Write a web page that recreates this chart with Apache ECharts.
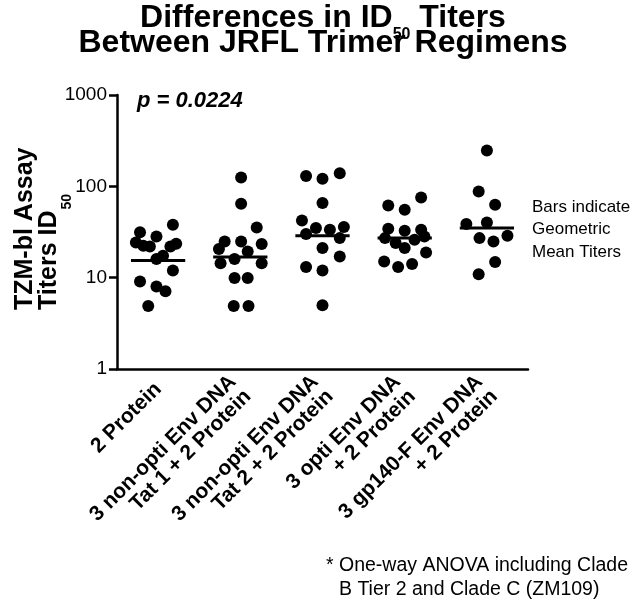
<!DOCTYPE html>
<html>
<head>
<meta charset="utf-8">
<script src="https://cdn.jsdelivr.net/npm/echarts@6/dist/echarts.min.js"></script>
<style>
  html, body { margin: 0; padding: 0; background: #fff; }
  #main { width: 637px; height: 605px; }
</style>
</head>
<body>
<div id="main"></div>
<script>
// regimens (x categories)
var categories = [
  '2 Protein',
  '3 non-opti Env DNA\nTat 1 + 2 Protein',
  '3 non-opti Env DNA\nTat 2 + 2 Protein',
  '3 opti Env DNA\n+ 2 Protein',
  '3 gp140-F Env DNA\n+ 2 Protein'
];

// ID50 titers per animal
var titers_1 = [37.9, 31.5, 28.2, 24.3, 22.3, 22, 22, 23.5, 17.4, 16, 12, 9.1, 8.0, 7.1, 4.9];
var titers_2 = [124.8, 64.4, 35.4, 24.9, 24.9, 23.3, 20.6, 19.4, 14.4, 16, 14.4, 9.9, 9.9, 4.9, 4.9];
var titers_3 = [130, 120.8, 139.4, 65.5, 42.3, 34.9, 33.4, 35.8, 30, 27.1, 21.1, 17.1, 13.1, 12, 5];
var titers_4 = [61.6, 55.3, 75.4, 34.3, 32.6, 33.4, 27.1, 23.9, 26, 28.2, 21.1, 18.9, 15, 13.1, 14.1];
var titers_5 = [246.4, 87.7, 62.8, 38.6, 40.2, 27.1, 24.9, 28.7, 14.8, 10.9];

// horizontal scatter of the dots inside each column (in category widths)
var jitter_1 = [0.18, -0.22, -0.02, -0.27, -0.18, -0.10, 0.15, 0.22, 0.06, -0.02, 0.18, -0.22, -0.02, 0.09, -0.12];
var jitter_2 = [0.01, 0.01, 0.20, -0.19, 0.01, 0.26, -0.26, 0.09, -0.24, -0.07, 0.26, -0.07, 0.09, -0.08, 0.10];
var jitter_3 = [-0.20, 0, 0.21, 0, -0.25, -0.08, 0.09, 0.26, -0.20, 0.21, 0, 0.21, -0.20, 0, 0];
var jitter_4 = [-0.20, 0, 0.20, -0.20, 0, 0.20, -0.24, -0.11, 0.12, 0.24, 0, 0.26, -0.25, -0.08, 0.09];
var jitter_5 = [0, -0.10, 0.10, -0.25, 0, -0.09, 0.08, 0.25, 0.10, -0.10];

// geometric mean titers (bars)
var geoMeans = [15.4, 16.8, 28.7, 27.1, 34.9];

var yTicks = [1, 10, 100, 1000];

var FONT = '"Liberation Sans", Arial, Helvetica, sans-serif';

var allTiters = [titers_1, titers_2, titers_3, titers_4, titers_5];
var allJitter = [jitter_1, jitter_2, jitter_3, jitter_4, jitter_5];

var dots = [];
for (var g = 0; g < allTiters.length; g++) {
  for (var k = 0; k < allTiters[g].length; k++) {
    dots.push([g + 0.5 + allJitter[g][k], allTiters[g][k]]);
  }
}
var meanData = geoMeans.map(function (m, i) { return [i + 0.5, m]; });

var myChart = echarts.init(document.getElementById('main'));

var option = {
  backgroundColor: '#fff',
  animation: false,
  grid: { left: 117, top: 95, width: 411, height: 274 },
  xAxis: [{
    type: 'category',
    data: categories,
    boundaryGap: true,
    axisLine: { lineStyle: { color: '#000', width: 2.5 } },
    axisTick: { alignWithLabel: true, length: 8, lineStyle: { color: '#000', width: 2.5 } },
    axisLabel: {
      interval: 0,
      rotate: 45,
      margin: 17,
      color: '#000',
      fontFamily: FONT,
      fontWeight: 'bold',
      fontSize: 21,
      lineHeight: 21
    },
    splitLine: { show: false }
  }, {
    type: 'value',
    min: 0,
    max: 5,
    show: false
  }],
  yAxis: {
    type: 'log',
    logBase: 10,
    min: 1,
    max: 1000,
    axisLine: { show: true, lineStyle: { color: '#000', width: 2.5 } },
    axisTick: { show: true, length: 8, lineStyle: { color: '#000', width: 2.5 } },
    axisLabel: {
      margin: 10,
      color: '#000',
      fontFamily: FONT,
      fontSize: 19,
      formatter: function (v) { return yTicks.indexOf(v) >= 0 ? String(v) : ''; }
    },
    splitLine: { show: false },
    minorTick: { show: false }
  },
  series: [{
    type: 'scatter',
    xAxisIndex: 1,
    data: dots,
    symbol: 'circle',
    symbolSize: 12,
    itemStyle: { color: '#000', opacity: 1 },
    z: 3
  }, {
    type: 'custom',
    xAxisIndex: 1,
    data: meanData,
    z: 4,
    renderItem: function (params, api) {
      var p = api.coord([api.value(0), api.value(1)]);
      var half = api.size([0.33, 0])[0];
      return {
        type: 'line',
        shape: { x1: p[0] - half, y1: p[1], x2: p[0] + half, y2: p[1] },
        style: { stroke: '#000', lineWidth: 3 }
      };
    }
  }],
  graphic: [{
    type: 'text',
    x: 323, y: 2,
    style: {
      text: '{a|Differences in ID}{s|50}{a| Titers}',
      align: 'center', textAlign: 'center',
      verticalAlign: 'top', textVerticalAlign: 'top',
      rich: {
        a: { fontFamily: FONT, fontSize: 32, fontWeight: 'bold', lineHeight: 32, verticalAlign: 'top', fill: '#000', color: '#000' },
        s: { fontFamily: FONT, fontSize: 16, fontWeight: 'bold', lineHeight: 16, verticalAlign: 'top', padding: [25, 0, 0, 0], fill: '#000', color: '#000' }
      }
    }
  }, {
    type: 'text',
    x: 323, y: 27,
    style: {
      text: 'Between JRFL Trimer Regimens',
      fontFamily: FONT, fontSize: 32, fontWeight: 'bold',
      fill: '#000',
      align: 'center', textAlign: 'center',
      verticalAlign: 'top', textVerticalAlign: 'top'
    }
  }, {
    type: 'text',
    x: 13, y: 310,
    rotation: Math.PI / 2,
    style: {
      text: '{a|TZM-bl Assay}\n{a|Titers ID}{s|50}',
      align: 'left', textAlign: 'left',
      verticalAlign: 'top', textVerticalAlign: 'top',
      rich: {
        a: { fontFamily: FONT, fontSize: 25, fontWeight: 'bold', lineHeight: 24, verticalAlign: 'top', fill: '#000', color: '#000' },
        s: { fontFamily: FONT, fontSize: 14, fontWeight: 'bold', lineHeight: 14, verticalAlign: 'top', padding: [23, 0, 0, 1], fill: '#000', color: '#000' }
      }
    }
  }, {
    type: 'text',
    x: 137, y: 90,
    style: {
      text: 'p = 0.0224',
      fontFamily: FONT, fontSize: 22, fontWeight: 'bold', fontStyle: 'italic',
      fill: '#000',
      verticalAlign: 'top', textVerticalAlign: 'top'
    }
  }, {
    type: 'text',
    x: 532, y: 196,
    style: {
      text: 'Bars indicate\nGeometric\nMean Titers',
      fontFamily: FONT, fontSize: 17, lineHeight: 22.5,
      fill: '#000',
      verticalAlign: 'top', textVerticalAlign: 'top'
    }
  }, {
    type: 'text',
    x: 326, y: 556,
    style: {
      text: '*',
      fontFamily: FONT, fontSize: 19.5,
      fill: '#000',
      verticalAlign: 'top', textVerticalAlign: 'top'
    }
  }, {
    type: 'text',
    x: 339, y: 554,
    style: {
      text: 'One-way ANOVA including Clade\nB Tier 2 and Clade C (ZM109)',
      fontFamily: FONT, fontSize: 19.5, lineHeight: 24,
      fill: '#000',
      verticalAlign: 'top', textVerticalAlign: 'top'
    }
  }]
};

myChart.setOption(option);
</script>
</body>
</html>
